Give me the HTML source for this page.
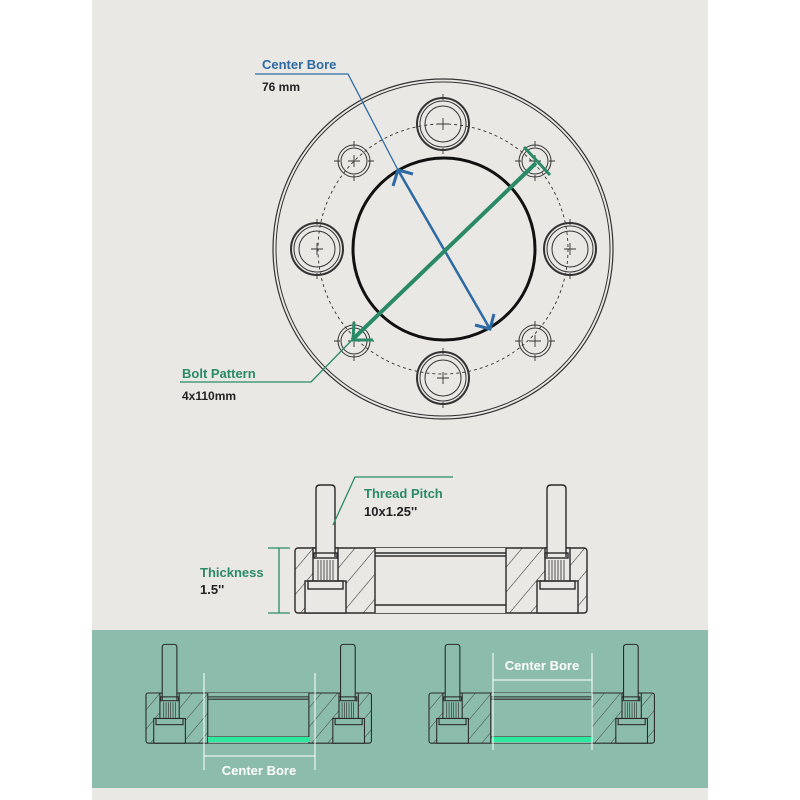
<!DOCTYPE html>
<html><head><style>
html,body{margin:0;padding:0;background:#fff}
svg{display:block}
text{font-family:"Liberation Sans",sans-serif;font-weight:bold}
</style></head><body>
<svg width="800" height="800" viewBox="0 0 800 800" xmlns="http://www.w3.org/2000/svg">
<defs>
<pattern id="h" width="16" height="16" patternUnits="userSpaceOnUse" patternTransform="rotate(40)">
<line x1="0" y1="0" x2="0" y2="16" stroke="#333" stroke-width="1.1"/>
</pattern>
<g id="side" fill="none" stroke="#2a2a2a" stroke-width="1.4">
<rect x="295" y="548" width="292" height="65" rx="3" fill="url(#h)"/>
<rect x="375" y="548" width="131" height="65" fill="var(--bg)" stroke="none"/>
<line x1="375" y1="548" x2="375" y2="613"/><line x1="506" y1="548" x2="506" y2="613"/>
<line x1="375" y1="553" x2="506" y2="553"/><line x1="375" y1="556" x2="506" y2="556"/>
<line x1="375" y1="605" x2="506" y2="605"/>
<rect x="313" y="548" width="25" height="34" fill="var(--bg)"/>
<rect x="305" y="581" width="41" height="32" fill="var(--bg)"/>
<rect x="308" y="581" width="35" height="8"/>
<rect x="545" y="548" width="25" height="34" fill="var(--bg)"/>
<rect x="537" y="581" width="41" height="32" fill="var(--bg)"/>
<rect x="540" y="581" width="35" height="8"/>
<path d="M316 557 V489 Q316 485 320 485 H331 Q335 485 335 489 V557" fill="var(--bg)"/>
<rect x="314" y="553" width="23" height="5"/>
<path d="M318 560V580M321 560V580M324 560V580M327 560V580M330 560V580M333 560V580" stroke-width="0.8"/>
<path d="M547 557 V489 Q547 485 551 485 H562 Q566 485 566 489 V557" fill="var(--bg)"/>
<rect x="545" y="553" width="23" height="5"/>
<path d="M549 560V580M552 560V580M555 560V580M558 560V580M561 560V580M564 560V580" stroke-width="0.8"/>
</g>
</defs>
<rect x="0" y="0" width="800" height="800" fill="#fff"/>
<rect x="92" y="0" width="616" height="800" fill="#e9e8e5"/>

<g fill="none" stroke="#333">
<circle cx="443" cy="249" r="170" stroke-width="1.2"/>
<circle cx="443" cy="249" r="167" stroke-width="1"/>
<circle cx="443" cy="249" r="125" stroke-dasharray="3,3" stroke-width="0.9"/>
<circle cx="444" cy="249" r="91" stroke="#111" stroke-width="3"/>
<g id="big">
<circle cx="443" cy="124" r="26" stroke-width="2"/>
<circle cx="443" cy="124" r="23"/>
<circle cx="443" cy="124" r="18"/>
<path d="M437 124h12M443 118v12M443 94v6M443 148v6" stroke-width="0.9"/>
</g>
<use href="#big" transform="translate(0,254)"/>
<use href="#big" transform="translate(-126,125)"/>
<use href="#big" transform="translate(127,125)"/>
<g id="sm">
<circle cx="354" cy="161" r="16"/>
<circle cx="354" cy="161" r="13"/>
<path d="M348 161h12M354 155v12M334 161h6M368 161h6M354 141v6M354 175v6" stroke-width="0.9"/>
</g>
<use href="#sm" transform="translate(181,0)"/>
<use href="#sm" transform="translate(0,180)"/>
<use href="#sm" transform="translate(181,180)"/>
</g>
<g stroke="#2d6aa3" fill="none">
<path d="M255 74 H348 L398 170" stroke-width="1.3"/>
<line x1="398" y1="170" x2="490" y2="329" stroke-width="2.5"/>
<path d="M393 186 L398 170 L413 174" stroke-width="3"/>
<path d="M475 325 L490 329 L494 314" stroke-width="3"/>
</g>
<text x="262" y="69" font-size="13" fill="#2d6aa3">Center Bore</text>
<text x="262" y="91" font-size="12" fill="#222">76 mm</text>
<g stroke="#2a8a68" fill="none">
<path d="M180 382 H311 L352 340" stroke-width="1.3"/>
<line x1="536" y1="163" x2="352" y2="340" stroke-width="4"/>
<path d="M524 147 L550 175" stroke-width="3"/>
<path d="M354 322 L353 340 L373 340" stroke-width="3"/>
</g>
<text x="182" y="378" font-size="13" fill="#2a8a68">Bolt Pattern</text>
<text x="182" y="400" font-size="12" fill="#222">4x110mm</text>

<use href="#side" style="--bg:#e9e8e5"/>
<g stroke="#2a8a68" fill="none" stroke-width="1.3">
<path d="M333 525 L355 477 H453"/>
<path d="M268 548 H290 M268 613 H290 M279 548 V613"/>
</g>
<text x="364" y="498" font-size="13" fill="#2a8a68">Thread Pitch</text>
<text x="364" y="516" font-size="13" fill="#222">10x1.25''</text>
<text x="200" y="577" font-size="13" fill="#2a8a68">Thickness</text>
<text x="200" y="594" font-size="13" fill="#222">1.5''</text>

<rect x="92" y="630" width="616" height="158" fill="#8cbcab"/>
<use href="#side" style="--bg:#8cbcab" transform="translate(146,693) scale(0.772) translate(-295,-548)"/>
<use href="#side" style="--bg:#8cbcab" transform="translate(429,693) scale(0.772) translate(-295,-548)"/>
<rect x="208" y="737" width="102" height="5" fill="#2ee8a0"/>
<rect x="492" y="737" width="101" height="5" fill="#2ee8a0"/>
<g stroke="#fff" stroke-width="1">
<path d="M204 673V770M315 673V770M204 756H315"/>
<path d="M493 653V750M592 653V750M493 680H592"/>
</g>
<text x="259" y="775" font-size="13" fill="#fff" text-anchor="middle">Center Bore</text>
<text x="542" y="670" font-size="13" fill="#fff" text-anchor="middle">Center Bore</text>
</svg>
</body></html>
